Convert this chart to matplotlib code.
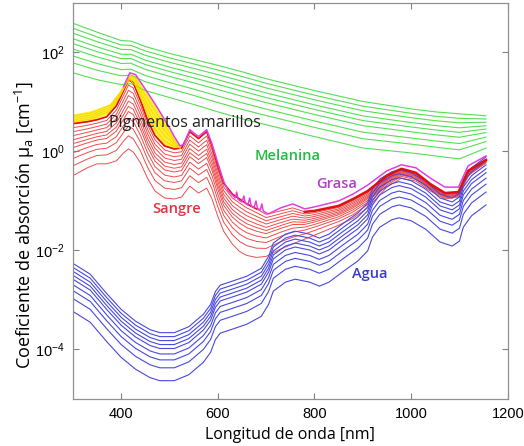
import numpy as np
import matplotlib
matplotlib.use("Agg")
import matplotlib.pyplot as plt

# ---------------------------------------------
# Data (log10 of mu_a in cm^-1)
# ---------------------------------------------
# Melanina: upper and lower curves of the family
wl_green = [300, 350, 400, 420, 450, 500, 550, 600, 650, 700, 800, 900, 1000, 1050, 1100, 1130, 1155]
green_top = [2.59, 2.41, 2.24, 2.23, 2.12, 1.98, 1.86, 1.74, 1.61, 1.47, 1.23, 1.01, 0.86, 0.80, 0.76, 0.74, 0.72]
green_bottom = [1.59, 1.45, 1.35, 1.37, 1.23, 1.09, 0.95, 0.80, 0.66, 0.54, 0.30, 0.07, -0.03, -0.09, -0.15, -0.03, 0.07]
green_weights = [0, 0.1, 0.2, 0.31, 0.41, 0.52, 0.66, 0.8, 1.0]

# Sangre
wl_red = [300, 330, 350, 370, 390, 405, 415, 425, 440, 455, 470, 490, 510, 525, 542, 560, 577, 588,
          600, 612, 630, 645, 660, 680, 700, 730, 755, 780, 800, 850, 880, 910, 950, 980, 1010, 1040,
          1070, 1098, 1118, 1155]
red_top = [0.56, 0.60, 0.64, 0.70, 0.92, 1.23, 1.45, 1.39, 1.03, 0.62, 0.32, 0.11, 0.05, 0.07, 0.40,
           0.26, 0.40, 0.11, -0.29, -0.64, -0.86, -0.96, -1.06, -1.16, -1.27, -1.20, -1.14, -1.22,
           -1.20, -1.10, -0.96, -0.80, -0.49, -0.35, -0.43, -0.66, -0.84, -0.82, -0.39, -0.17]
red_bottom = [-0.49, -0.33, -0.25, -0.25, -0.19, -0.03, 0.05, -0.01, -0.23, -0.55, -0.80, -0.94,
              -0.96, -0.92, -0.70, -0.84, -0.74, -0.96, -1.31, -1.61, -1.87, -2.02, -2.10, -2.14,
              -2.12, -1.97, -1.87, -1.77, -1.69, -1.49, -1.35, -1.14, -0.72, -0.54, -0.60, -0.80,
              -0.96, -0.92, -0.49, -0.23]
red_weights = [0, 0.077, 0.154, 0.23, 0.31, 0.385, 0.46, 0.56, 0.67, 0.81, 1.0]

# Pigmentos amarillos (band above the blood curves)
wl_yellow = [300, 336, 377, 398, 410, 418, 430, 445, 460, 474, 490, 500, 510, 522]
yellow_upper = [0.76, 0.82, 0.97, 1.23, 1.43, 1.57, 1.53, 1.29, 1.09, 0.89, 0.62, 0.46, 0.28, 0.07]
yellow_lower = [0.56, 0.61, 0.78, 1.09, 1.33, 1.43, 1.27, 0.89, 0.52, 0.28, 0.11, 0.08, 0.05, 0.07]

# Grasa
wl_fat = [405, 418, 430, 445, 460, 474, 490, 500, 510, 522, 530, 542, 560, 577, 588, 600, 612, 622,
          630, 636, 639, 642, 650, 654, 657, 662, 666, 669, 675, 679, 682, 688, 691, 694, 700, 705,
          730, 755, 780, 800, 850, 880, 910, 950, 980, 1010, 1040, 1070, 1098, 1118, 1155]
fat = [1.31, 1.59, 1.55, 1.33, 1.11, 0.90, 0.64, 0.48, 0.30, 0.11, 0.15, 0.44, 0.30, 0.44, 0.15,
       -0.23, -0.60, -0.80, -0.88, -0.94, -0.82, -0.97, -1.02, -0.90, -1.05, -1.08, -0.94, -1.10,
       -1.13, -1.00, -1.15, -1.18, -1.06, -1.20, -1.24, -1.26, -1.14, -1.06, -1.16, -1.12, -1.00,
       -0.86, -0.68, -0.39, -0.27, -0.33, -0.54, -0.72, -0.72, -0.29, -0.09]

# Agua: top curve and downward shifts (decades) of the family
wl_blue = [300, 336, 370, 400, 430, 460, 480, 510, 540, 570, 585, 595, 605, 630, 660, 690, 705, 715,
           740, 760, 790, 810, 830, 860, 890, 910, 920, 935, 960, 975, 1000, 1030, 1060, 1085, 1100,
           1108, 1125, 1155]
blue_top = [-2.26, -2.48, -2.87, -3.19, -3.43, -3.60, -3.66, -3.66, -3.54, -3.29, -3.09, -2.83,
            -2.70, -2.62, -2.52, -2.36, -2.12, -1.85, -1.67, -1.61, -1.67, -1.75, -1.67, -1.45,
            -1.24, -1.04, -0.76, -0.56, -0.41, -0.37, -0.43, -0.60, -0.86, -0.94, -0.84, -0.56,
            -0.33, -0.11]
blue_shifts = [0, 0.08, 0.16, 0.24, 0.32, 0.43, 0.55, 0.71, 0.97]

# ---------------------------------------------
# Plot
# ---------------------------------------------
plt.rcParams["mathtext.default"] = "regular"

fig = plt.figure(figsize=(5.24, 4.46), dpi=100)
ax = fig.add_axes([0.139, 0.1054, 0.830, 0.888])

gt = np.array(green_top)
gb = np.array(green_bottom)
for w in green_weights:
    ax.plot(wl_green, 10 ** (gt + w * (gb - gt)), color="#55de55", lw=0.8)

rt = np.array(red_top)
rb = np.array(red_bottom)
for w in red_weights:
    ax.plot(wl_red, 10 ** (rt + w * (rb - rt)), color="#ee4c4c", lw=0.7)
ax.plot(wl_red[:24], 10 ** rt[:24], color="#e81010", lw=1.2)

bt = np.array(blue_top)
for s in blue_shifts:
    ax.plot(wl_blue, 10 ** (bt - s), color="#4848e0", lw=0.8)

# red thick line on top of the family at long wavelengths
ax.plot(wl_red[27:], 10 ** rt[27:], color="#e01010", lw=1.8)

# yellow pigments band
yu = np.array(yellow_upper)
yl = np.array(yellow_lower)
ax.fill_between(wl_yellow, 10 ** yl, 10 ** yu, color="#ffee33", lw=0)
for w in [0.2, 0.4, 0.6, 0.8]:
    ax.plot(wl_yellow, 10 ** (yl + w * (yu - yl)), color="#f5d800", lw=0.6)

ax.plot(wl_fat, 10 ** np.array(fat), color="#e040e0", lw=1.1)

ax.set_yscale("log")
ax.set_xlim(300, 1200)
ax.set_ylim(1e-5, 1e3)
ax.set_xticks([400, 600, 800, 1000, 1200])
ax.set_yticks([1e-4, 1e-2, 1e0, 1e2])
ax.minorticks_off()
ax.tick_params(direction="in", top=True, right=True, length=4, width=0.8,
               color="#808080", labelsize=10.5, pad=6)
for lab in ax.get_xticklabels() + ax.get_yticklabels():
    lab.set_family("Liberation Sans")
for sp in ax.spines.values():
    sp.set_color("#909090")
    sp.set_linewidth(0.9)

ax.set_xlabel("Longitud de onda [nm]", fontsize=11.5, family="Open Sans", labelpad=4)
ax.set_ylabel("Coeficiente de absorción μ$_a$ [cm$^{-1}$]", fontsize=13,
              family="Open Sans", va="center")
ax.yaxis.set_label_coords(-0.11, 0.44)

ax.text(533, 10 ** 0.58, "Pigmentos amarillos", fontsize=11.5, family="Open Sans",
        color="#202020", ha="center", va="center")
ax.text(744, 10 ** -0.09, "Melanina", fontsize=10.5, family="Open Sans",
        color="#22bb44", ha="center", va="center", weight="semibold")
ax.text(845, 10 ** -0.66, "Grasa", fontsize=10.5, family="Open Sans",
        color="#b040c0", ha="center", va="center", weight="semibold")
ax.text(515, 10 ** -1.16, "Sangre", fontsize=10.5, family="Open Sans",
        color="#e83040", ha="center", va="center", weight="semibold")
ax.text(915, 10 ** -2.48, "Agua", fontsize=10.5, family="Open Sans",
        color="#3a3acc", ha="center", va="center", weight="semibold")

fig.savefig("out.png", dpi=100)
plt.close(fig)
